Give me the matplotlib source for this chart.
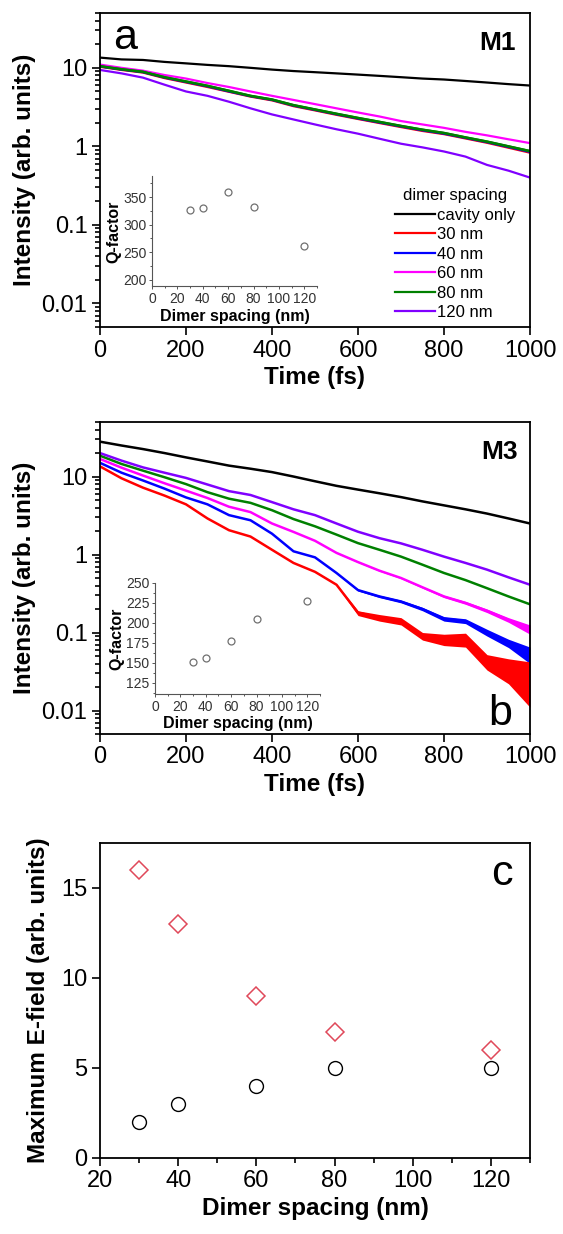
import matplotlib
matplotlib.use("Agg")
import matplotlib.pyplot as plot
from matplotlib.ticker import FixedLocator, LogLocator, MultipleLocator, NullFormatter

plot.rcParams["font.family"] = ["Liberation Sans", "DejaVu Sans"]

# --- panel a (M1), intensity vs time, every 50 fs
time_fs = [0, 50, 100, 150, 200, 250, 300, 350, 400, 450, 500,
           550, 600, 650, 700, 750, 800, 850, 900, 950, 1000]
m1_cavity = [13.5, 12.8, 12.6, 11.9, 11.4, 10.9, 10.5, 10.0, 9.5, 9.1, 8.8,
             8.5, 8.2, 7.9, 7.6, 7.3, 7.1, 6.8, 6.5, 6.2, 5.95]
m1_30nm = [10.3, 9.4, 8.7, 7.4, 6.5, 5.7, 4.95, 4.3, 3.85, 3.25, 2.87,
           2.52, 2.23, 1.98, 1.76, 1.57, 1.43, 1.26, 1.11, 0.96, 0.83]
m1_40nm = [10.4, 9.5, 8.8, 7.5, 6.6, 5.8, 5.0, 4.35, 3.9, 3.3, 2.91,
           2.56, 2.26, 2.01, 1.79, 1.6, 1.45, 1.28, 1.13, 0.98, 0.85]
m1_60nm = [11.0, 10.0, 9.2, 8.1, 7.3, 6.4, 5.7, 5.0, 4.4, 3.9, 3.45,
           3.05, 2.7, 2.4, 2.1, 1.9, 1.72, 1.53, 1.38, 1.23, 1.1]
m1_80nm = [10.5, 9.6, 8.9, 7.6, 6.7, 5.9, 5.1, 4.4, 3.95, 3.35, 2.95,
           2.6, 2.3, 2.05, 1.82, 1.63, 1.48, 1.3, 1.15, 1.0, 0.87]
m1_120nm = [9.4, 8.5, 7.5, 6.1, 5.0, 4.4, 3.7, 3.05, 2.55, 2.2, 1.9,
            1.65, 1.45, 1.25, 1.08, 0.97, 0.86, 0.74, 0.58, 0.49, 0.40]

# --- panel b (M3)
m3_cavity = [28, 25, 22.5, 20, 17.6, 15.6, 13.8, 12.6, 11.4, 10.0, 8.7,
             7.6, 6.8, 6.1, 5.45, 4.8, 4.27, 3.8, 3.35, 2.9, 2.5]
m3_30nm = [13.5, 9.5, 7.2, 5.7, 4.4, 2.9, 2.05, 1.7, 1.15, 0.78, 0.6,
           0.41, 0.18, 0.155, 0.14, 0.09, 0.08, 0.08, 0.042, 0.032, 0.02]
m3_40nm = [15, 11.2, 8.9, 7.0, 5.4, 4.4, 3.2, 2.75, 1.85, 1.1, 0.92,
           0.58, 0.35, 0.29, 0.25, 0.2, 0.15, 0.14, 0.1, 0.074, 0.05]
m3_60nm = [16.8, 13, 10.3, 8.2, 6.6, 5.3, 4.1, 3.5, 2.5, 1.95, 1.5,
           1.05, 0.8, 0.62, 0.5, 0.38, 0.29, 0.24, 0.19, 0.145, 0.11]
m3_80nm = [18.5, 14.5, 11.9, 9.8, 8.0, 6.3, 5.2, 4.6, 3.7, 2.85, 2.3,
           1.8, 1.4, 1.15, 0.94, 0.74, 0.58, 0.47, 0.37, 0.29, 0.23]
m3_120nm = [20, 16, 13.1, 11.2, 9.6, 7.9, 6.5, 5.8, 4.7, 3.8, 3.2,
            2.5, 1.96, 1.62, 1.39, 1.15, 0.94, 0.78, 0.64, 0.51, 0.41]

# fast-oscillation envelopes at late times (M3)
band_time = [550, 600, 650, 700, 750, 800, 850, 900, 950, 1000]
m3_30nm_lo = [0.40, 0.165, 0.14, 0.125, 0.08, 0.068, 0.065, 0.033, 0.022, 0.011]
m3_30nm_hi = [0.42, 0.19, 0.17, 0.155, 0.10, 0.095, 0.098, 0.052, 0.046, 0.042]
m3_40nm_lo = [0.57, 0.34, 0.28, 0.24, 0.19, 0.14, 0.13, 0.09, 0.064, 0.04]
m3_40nm_hi = [0.59, 0.36, 0.30, 0.26, 0.21, 0.16, 0.15, 0.11, 0.082, 0.065]
m3_60nm_lo = [1.04, 0.79, 0.61, 0.49, 0.37, 0.28, 0.23, 0.18, 0.135, 0.095]
m3_60nm_hi = [1.06, 0.81, 0.63, 0.51, 0.39, 0.30, 0.25, 0.20, 0.155, 0.125]

# --- insets: Q-factor
spacing_nm = [30, 40, 60, 80, 120]
q_m1 = [327, 330, 360, 333, 261]
q_m3 = [151, 156, 177, 205, 228]

# --- panel c: maximum E-field
efield_diamond = [16, 13, 9, 7, 6]
efield_circle = [2, 3, 4, 5, 5]

labels = ["cavity only", "30 nm", "40 nm", "60 nm", "80 nm", "120 nm"]
colors = ["black", "#ff0000", "#0000ff", "#ff00ff", "#008000", "#8000ff"]

TICK = 17
LABEL = 17.5


def style_main(axis):
    for spine in axis.spines.values():
        spine.set_linewidth(1.3)
    axis.tick_params(which="both", direction="out", top=False, right=False,
                     labelsize=TICK, width=1.2, pad=3)
    axis.tick_params(which="major", length=6)
    axis.tick_params(which="minor", length=3.5)


def style_log(axis):
    axis.set_yscale("log")
    axis.set_ylim(0.005, 50)
    axis.yaxis.set_major_locator(FixedLocator([0.01, 0.1, 1, 10]))
    axis.set_yticklabels(["0.01", "0.1", "1", "10"])
    axis.yaxis.set_minor_locator(LogLocator(base=10, subs=range(2, 10)))
    axis.yaxis.set_minor_formatter(NullFormatter())
    axis.set_xlim(0, 1000)
    axis.xaxis.set_major_locator(MultipleLocator(200))
    axis.set_xlabel("Time (fs)", fontsize=LABEL, fontweight="bold", labelpad=3)
    axis.set_ylabel("Intensity (arb. units)", fontsize=LABEL, fontweight="bold", labelpad=4)
    style_main(axis)


def draw_inset(figure, rect, values, ylim, yticks):
    inset = figure.add_axes(rect)
    inset.plot(spacing_nm, values, "o", mfc="none", mec="#707070", ms=5, mew=0.9)
    inset.set_xlim(0, 130)
    inset.set_ylim(*ylim)
    inset.set_xticks([0, 20, 40, 60, 80, 100, 120])
    inset.xaxis.set_minor_locator(MultipleLocator(10))
    inset.set_yticks(yticks)
    inset.yaxis.set_minor_locator(MultipleLocator((yticks[1] - yticks[0]) / 2))
    inset.spines["top"].set_visible(False)
    inset.spines["right"].set_visible(False)
    for side in ("left", "bottom"):
        inset.spines[side].set_color("#555555")
        inset.spines[side].set_linewidth(0.8)
    inset.tick_params(which="both", direction="out", labelsize=10, colors="#555555",
                      labelcolor="#333333", width=0.7, pad=1.5)
    inset.tick_params(which="major", length=2.5)
    inset.tick_params(which="minor", length=1.5)
    inset.set_xlabel("Dimer spacing (nm)", fontsize=11.5, fontweight="bold", labelpad=2)
    inset.set_ylabel("Q-factor", fontsize=11.5, fontweight="bold", labelpad=1)
    inset.patch.set_alpha(0)
    return inset


figure = plot.figure(figsize=(5.63, 12.34), dpi=100)
ax_a = figure.add_axes([0.1776, 0.735, 0.7638, 0.2545])
ax_b = figure.add_axes([0.1776, 0.4052, 0.7638, 0.2528])
ax_c = figure.add_axes([0.1776, 0.0616, 0.7638, 0.2553])

# panel a
for series, label, color in zip([m1_cavity, m1_30nm, m1_40nm, m1_60nm, m1_80nm, m1_120nm],
                                labels, colors):
    ax_a.plot(time_fs, series, color=color, lw=1.6, label=label)
# redraw green on top like the original
ax_a.plot(time_fs, m1_80nm, color=colors[4], lw=1.8)
style_log(ax_a)
ax_a.text(0.03, 0.92, "a", transform=ax_a.transAxes, fontsize=31, ha="left", va="center")
ax_a.text(0.968, 0.905, "M1", transform=ax_a.transAxes, fontsize=19, fontweight="bold",
          ha="right", va="center")
legend = ax_a.legend(loc="lower right", bbox_to_anchor=(0.99, -0.01), frameon=False,
                     title="dimer spacing", title_fontsize=12, fontsize=12,
                     handlelength=2.4, handletextpad=0.15, labelspacing=0.27,
                     borderaxespad=0.2)
legend._legend_box.align = "center"
draw_inset(figure, [0.270, 0.768, 0.293, 0.0891], q_m1, (188, 388), [200, 250, 300, 350])

# panel b
ax_b.fill_between(band_time, m3_60nm_lo, m3_60nm_hi, color=colors[3], lw=0)
ax_b.fill_between(band_time, m3_40nm_lo, m3_40nm_hi, color=colors[2], lw=0)
ax_b.fill_between(band_time, m3_30nm_lo, m3_30nm_hi, color=colors[1], lw=0)
for series, color in zip([m3_cavity, m3_30nm, m3_40nm, m3_60nm, m3_80nm, m3_120nm], colors):
    ax_b.plot(time_fs, series, color=color, lw=1.8)
style_log(ax_b)
ax_b.text(0.972, 0.904, "M3", transform=ax_b.transAxes, fontsize=19, fontweight="bold",
          ha="right", va="center")
ax_b.text(0.93, 0.065, "b", transform=ax_b.transAxes, fontsize=31, ha="center", va="center")
draw_inset(figure, [0.2753, 0.4376, 0.293, 0.09], q_m3, (111, 250), [125, 150, 175, 200, 225, 250])

# panel c
ax_c.plot(spacing_nm, efield_diamond, "D", mfc="none", mec="#e0485a", ms=9.5, mew=1.1)
ax_c.plot(spacing_nm, efield_circle, "o", mfc="none", mec="black", ms=10, mew=1.0)
ax_c.set_xlim(20, 130)
ax_c.set_ylim(0, 17.5)
ax_c.xaxis.set_major_locator(MultipleLocator(20))
ax_c.xaxis.set_minor_locator(MultipleLocator(10))
ax_c.yaxis.set_major_locator(MultipleLocator(5))
ax_c.set_xlabel("Dimer spacing (nm)", fontsize=LABEL, fontweight="bold", labelpad=3)
ax_c.set_ylabel("Maximum E-field (arb. units)", fontsize=LABEL, fontweight="bold", labelpad=8)
style_main(ax_c)
ax_c.text(0.935, 0.90, "c", transform=ax_c.transAxes, fontsize=31, ha="center", va="center")

figure.savefig("out.png", dpi=100)
